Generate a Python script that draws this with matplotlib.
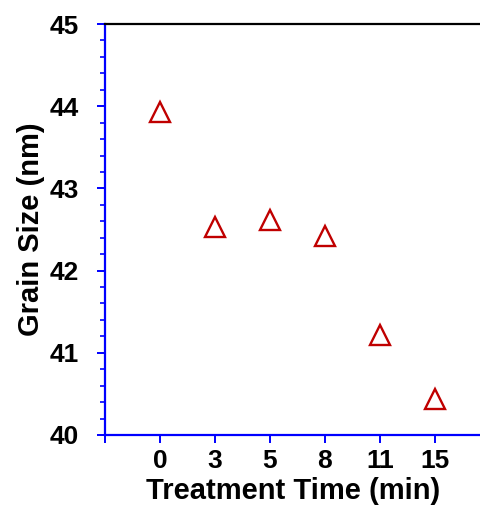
import matplotlib.pyplot as plt
from matplotlib.ticker import MultipleLocator

# data
times = ["0", "3", "5", "8", "11", "15"]
grain_size = [43.93, 42.53, 42.62, 42.42, 41.22, 40.44]

plt.rcParams['font.family'] = ['Liberation Sans', 'DejaVu Sans']
plt.rcParams['font.weight'] = 'bold'

fig = plt.figure(figsize=(4.81, 5.05), dpi=100)
ax = fig.add_axes([105/481, 70/505, 376/481, 411/505])

pos = list(range(len(times)))
ax.plot(pos, grain_size, linestyle='none', marker='^', markersize=14,
        markerfacecolor='none', markeredgecolor='#C00000', markeredgewidth=1.7)

ax.set_xlim(-1, 5.84)
ax.set_ylim(40, 45)
ax.set_xticks([-1] + pos)
ax.set_xticklabels([""] + times)
ax.yaxis.set_major_locator(MultipleLocator(1))
ax.yaxis.set_minor_locator(MultipleLocator(0.2))

blue = '#0000FF'
ax.spines['left'].set_color(blue)
ax.spines['bottom'].set_color(blue)
ax.spines['left'].set_linewidth(1.6)
ax.spines['bottom'].set_linewidth(1.6)
ax.spines['top'].set_color('black')
ax.spines['top'].set_linewidth(1.6)
ax.spines['right'].set_visible(False)

ax.tick_params(axis='both', which='major', direction='out', length=6, width=1.4,
               color=blue, labelsize=19)
ax.tick_params(axis='x', which='major', pad=4)
ax.tick_params(axis='y', which='major', pad=13)
ax.tick_params(axis='y', which='minor', direction='out', length=3.6, width=1.2, color=blue)

ax.set_xlabel("Treatment Time (min)", fontsize=21, fontweight='bold', labelpad=3)
ax.set_ylabel("Grain Size (nm)", fontsize=21, fontweight='bold', labelpad=3)

fig.savefig("out.png", dpi=100)
